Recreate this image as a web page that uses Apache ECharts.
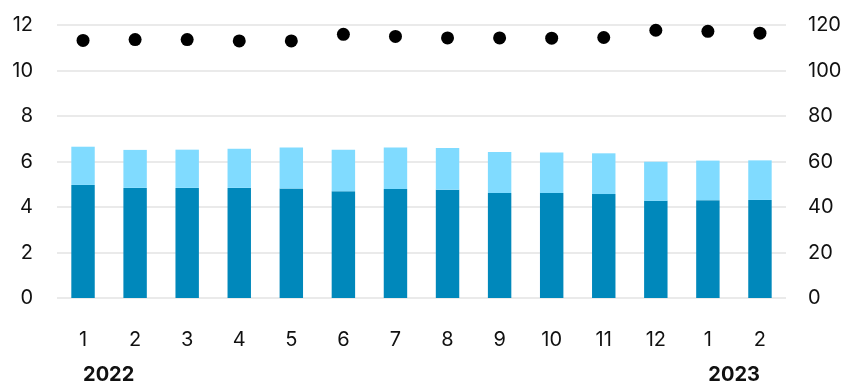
<!DOCTYPE html>
<html>
<head>
<meta charset="utf-8">
<script src="https://cdn.jsdelivr.net/npm/echarts@6/dist/echarts.min.js"></script>
<style>
    html, body { margin: 0; padding: 0; background: #fff; }
    #chart { width: 851px; height: 385px; }
</style>
</head>
<body>
<div id="chart"></div>
<script>
// Data
const months = ['1', '2', '3', '4', '5', '6', '7', '8', '9', '10', '11', '12', '1', '2'];
const years = ['2022', '', '', '', '', '', '', '', '', '', '', '', '', '2023'];
const darkTotals = [4.97, 4.84, 4.84, 4.84, 4.81, 4.69, 4.79, 4.76, 4.62, 4.62, 4.57, 4.27, 4.30, 4.31];
const barTotals = [6.65, 6.51, 6.52, 6.56, 6.61, 6.52, 6.61, 6.59, 6.42, 6.40, 6.36, 5.99, 6.04, 6.05];
const dots = [113.2, 113.6, 113.6, 113.0, 113.0, 115.9, 115.0, 114.3, 114.3, 114.2, 114.5, 117.7, 117.2, 116.4];

// light part sits on top of the dark part
const lightParts = barTotals.map((t, i) => +(t - darkTotals[i]).toFixed(2));

const font = 'Inter, "Noto Sans", sans-serif';
const textColor = '#111';
const gridColor = '#e3e3e3';

const chart = echarts.init(document.getElementById('chart'));
chart.setOption({
    animation: false,
    grid: {
        left: 57,
        right: 65,
        top: 25,
        bottom: 87
    },
    xAxis: [
        {
            type: 'category',
            data: months,
            axisLine: { show: false },
            axisTick: { show: false },
            axisLabel: {
                margin: 32,
                fontSize: 20,
                fontFamily: font,
                color: textColor
            }
        },
        {
            type: 'category',
            position: 'bottom',
            data: years.map((y, i) => ({
                value: y,
                textStyle: { align: i === 0 ? 'left' : 'right' }
            })),
            axisLine: { show: false },
            axisTick: { show: false },
            axisLabel: {
                interval: 0,
                margin: 67,
                fontSize: 20,
                fontWeight: 'bold',
                fontFamily: font,
                color: textColor,
                formatter: (v, i) => (i === 0 ? '{l|' + v + '}' : '{r|' + v + '}'),
                rich: {
                    l: { fontSize: 20, fontWeight: 'bold', fontFamily: font, color: textColor, padding: [0, 4, 0, 0] },
                    r: { fontSize: 20, fontWeight: 'bold', fontFamily: font, color: textColor, padding: [0, 0, 0, 4] }
                }
            }
        }
    ],
    yAxis: [
        {
            type: 'value',
            min: 0,
            max: 12,
            interval: 2,
            axisLine: { show: false },
            axisTick: { show: false },
            splitLine: { lineStyle: { color: gridColor, width: 1.5 } },
            axisLabel: {
                margin: 24,
                fontSize: 20,
                fontFamily: font,
                color: textColor
            }
        },
        {
            type: 'value',
            min: 0,
            max: 120,
            interval: 20,
            axisLine: { show: false },
            axisTick: { show: false },
            splitLine: { show: false },
            axisLabel: {
                margin: 22,
                fontSize: 20,
                fontFamily: font,
                color: textColor
            }
        }
    ],
    series: [
        {
            name: 'dark',
            type: 'bar',
            stack: 'total',
            data: darkTotals,
            barWidth: '45%',
            itemStyle: { color: '#0088bb' }
        },
        {
            name: 'light',
            type: 'bar',
            stack: 'total',
            data: lightParts,
            barWidth: '45%',
            itemStyle: { color: '#80dbff' }
        },
        {
            name: 'dots',
            type: 'scatter',
            yAxisIndex: 1,
            data: dots,
            symbolSize: 13,
            itemStyle: { color: '#000', opacity: 1 }
        }
    ]
});
</script>
</body>
</html>
